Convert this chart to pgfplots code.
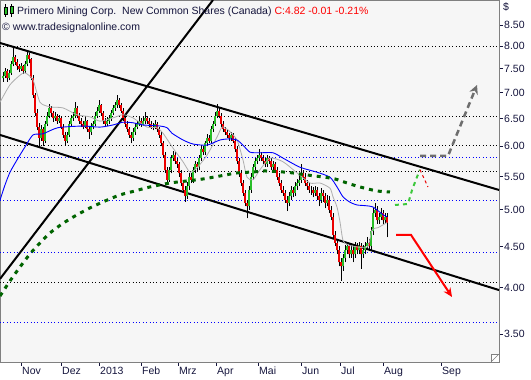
\documentclass[border=0pt]{standalone}
\usepackage{fontspec}
\setmainfont{Liberation Sans}
\usepackage{pgfplots}
\usepackage{pgfplotstable}
\pgfplotsset{compat=1.18}
\usetikzlibrary{arrows.meta}
\definecolor{bg}{RGB}{246,246,246}
\definecolor{cgreen}{RGB}{40,190,40}
\definecolor{cred}{RGB}{235,0,0}
\definecolor{madk}{RGB}{0,100,0}
\definecolor{malt}{RGB}{60,200,60}
\definecolor{magray}{RGB}{175,175,175}
\definecolor{framec}{RGB}{128,128,128}
\definecolor{txt}{RGB}{20,20,60}
\definecolor{arrgray}{RGB}{110,110,110}

\pgfplotstableread{
x o h l c
3 7.30 7.42 7.22 7.35
5 7.35 7.52 7.30 7.45
7 7.45 7.50 7.22 7.30
9 7.30 7.46 7.25 7.40
11 7.40 7.66 7.36 7.60
13 7.60 7.98 7.55 7.75
15 7.75 7.80 7.58 7.65
17 7.65 7.70 7.48 7.55
19 7.55 7.60 7.42 7.50
21 7.50 7.62 7.45 7.55
23 7.55 7.58 7.38 7.45
25 7.45 7.66 7.40 7.60
27 7.60 7.92 7.55 7.80
29 7.80 7.85 7.62 7.70
31 7.70 7.74 7.25 7.30
33 7.30 7.36 6.90 6.95
35 6.95 7.00 6.55 6.60
37 6.60 6.68 6.28 6.35
39 6.35 6.42 5.98 6.15
41 6.15 6.38 6.10 6.30
43 6.30 6.35 6.00 6.10
45 6.10 6.46 6.05 6.40
47 6.40 6.62 6.36 6.55
49 6.55 6.78 6.50 6.70
51 6.70 6.74 6.55 6.60
53 6.60 6.65 6.44 6.50
55 6.50 6.62 6.46 6.55
57 6.55 6.58 6.40 6.45
59 6.45 6.56 6.42 6.50
61 6.50 6.54 6.30 6.35
63 6.35 6.40 6.15 6.20
65 6.20 6.25 6.02 6.10
67 6.10 6.26 6.05 6.20
69 6.20 6.46 6.16 6.40
71 6.40 6.56 6.35 6.50
73 6.50 6.62 6.46 6.55
75 6.55 6.82 6.50 6.70
77 6.70 6.74 6.50 6.55
79 6.55 6.60 6.40 6.45
81 6.45 6.50 6.35 6.40
83 6.40 6.45 6.30 6.35
85 6.35 6.52 6.32 6.45
87 6.45 6.48 6.25 6.30
89 6.30 6.35 6.12 6.25
91 6.25 6.42 6.20 6.35
93 6.35 6.46 6.30 6.40
95 6.40 6.62 6.36 6.55
97 6.55 6.72 6.50 6.65
99 6.65 6.86 6.60 6.75
101 6.75 6.78 6.55 6.60
103 6.60 6.64 6.40 6.45
105 6.45 6.50 6.34 6.40
107 6.40 6.52 6.36 6.45
109 6.45 6.56 6.40 6.50
111 6.50 6.66 6.46 6.60
113 6.60 6.76 6.56 6.70
115 6.70 6.82 6.65 6.75
117 6.75 6.96 6.70 6.85
119 6.85 6.90 6.70 6.75
121 6.75 6.80 6.60 6.65
123 6.65 6.70 6.45 6.50
125 6.50 6.55 6.35 6.40
127 6.40 6.45 6.25 6.30
129 6.30 6.35 6.15 6.20
131 6.20 6.26 6.05 6.15
133 6.15 6.32 6.10 6.25
135 6.25 6.42 6.20 6.35
137 6.35 6.46 6.30 6.40
139 6.40 6.52 6.36 6.45
141 6.45 6.50 6.35 6.40
143 6.40 6.52 6.36 6.45
145 6.45 6.62 6.40 6.50
147 6.50 6.55 6.40 6.45
149 6.45 6.50 6.35 6.40
151 6.40 6.45 6.30 6.35
153 6.35 6.42 6.28 6.35
155 6.35 6.48 6.30 6.40
157 6.40 6.44 6.25 6.30
159 6.30 6.35 6.15 6.20
161 6.20 6.25 6.00 6.05
163 6.05 6.10 5.80 5.85
165 5.85 5.90 5.55 5.60
167 5.60 5.65 5.40 5.45
169 5.45 5.66 5.42 5.60
171 5.60 5.86 5.55 5.80
173 5.80 5.92 5.75 5.85
175 5.85 5.90 5.70 5.75
177 5.75 5.80 5.64 5.70
179 5.70 5.74 5.50 5.55
181 5.55 5.60 5.35 5.40
183 5.40 5.45 5.25 5.30
185 5.30 5.35 5.12 5.20
187 5.20 5.42 5.16 5.35
189 5.35 5.56 5.30 5.50
191 5.50 5.55 5.40 5.45
193 5.45 5.66 5.40 5.60
195 5.60 5.76 5.55 5.70
197 5.70 5.74 5.58 5.65
199 5.65 5.86 5.60 5.80
201 5.80 6.00 5.75 5.95
203 5.95 6.00 5.85 5.90
205 5.90 6.10 5.86 6.05
207 6.05 6.22 6.00 6.15
209 6.15 6.20 6.05 6.10
211 6.10 6.36 6.06 6.30
213 6.30 6.46 6.25 6.40
215 6.40 6.62 6.36 6.55
217 6.55 6.78 6.50 6.65
219 6.65 6.72 6.50 6.55
221 6.55 6.60 6.35 6.40
223 6.40 6.45 6.25 6.30
225 6.30 6.35 6.20 6.25
227 6.25 6.30 6.15 6.20
229 6.20 6.24 6.10 6.15
231 6.15 6.26 6.10 6.20
233 6.20 6.24 6.05 6.10
235 6.10 6.14 5.90 5.95
237 5.95 6.00 5.70 5.75
239 5.75 5.80 5.50 5.55
241 5.55 5.60 5.35 5.40
243 5.40 5.45 5.20 5.25
245 5.25 5.30 5.05 5.10
247 5.10 5.15 4.88 5.05
249 5.05 5.36 5.00 5.30
251 5.30 5.56 5.25 5.50
253 5.50 5.70 5.45 5.65
255 5.65 5.80 5.60 5.75
257 5.75 5.86 5.70 5.80
259 5.80 5.96 5.75 5.85
261 5.85 5.90 5.75 5.80
263 5.80 5.85 5.70 5.75
265 5.75 5.80 5.65 5.70
267 5.70 5.86 5.66 5.80
269 5.80 5.84 5.70 5.75
271 5.75 5.80 5.60 5.65
273 5.65 5.76 5.60 5.70
275 5.70 5.74 5.55 5.60
277 5.60 5.65 5.45 5.50
279 5.50 5.55 5.35 5.40
281 5.40 5.45 5.25 5.30
283 5.30 5.35 5.20 5.25
285 5.25 5.30 5.10 5.15
287 5.15 5.20 4.98 5.10
289 5.10 5.26 5.05 5.20
291 5.20 5.36 5.15 5.30
293 5.30 5.34 5.18 5.25
295 5.25 5.42 5.20 5.35
297 5.35 5.46 5.30 5.40
299 5.40 5.52 5.35 5.45
301 5.45 5.70 5.40 5.55
303 5.55 5.60 5.45 5.50
305 5.50 5.55 5.35 5.40
307 5.40 5.45 5.30 5.35
309 5.35 5.40 5.25 5.30
311 5.30 5.36 5.22 5.30
313 5.30 5.34 5.18 5.25
315 5.25 5.36 5.20 5.30
317 5.30 5.34 5.15 5.20
319 5.20 5.25 5.05 5.15
321 5.15 5.32 5.10 5.25
323 5.25 5.30 5.12 5.20
325 5.20 5.24 5.02 5.10
327 5.10 5.22 5.05 5.15
329 5.15 5.20 4.95 5.00
331 5.00 5.05 4.85 4.90
333 4.90 4.95 4.60 4.65
335 4.65 4.70 4.50 4.55
337 4.55 4.60 4.40 4.45
339 4.45 4.50 4.25 4.30
341 4.30 4.35 4.08 4.25
343 4.25 4.40 4.20 4.35
345 4.35 4.52 4.30 4.45
347 4.45 4.56 4.40 4.50
349 4.50 4.55 4.35 4.40
351 4.40 4.52 4.36 4.45
353 4.45 4.50 4.30 4.40
355 4.40 4.56 4.36 4.50
357 4.50 4.55 4.40 4.45
359 4.45 4.56 4.40 4.50
361 4.50 4.54 4.22 4.40
363 4.40 4.52 4.36 4.45
365 4.45 4.56 4.40 4.50
367 4.50 4.62 4.46 4.55
369 4.55 4.60 4.44 4.50
371 4.50 4.76 4.46 4.70
373 4.70 5.02 4.65 4.95
375 4.95 5.10 4.90 5.00
377 5.00 5.05 4.80 4.85
379 4.85 4.96 4.80 4.90
381 4.90 5.02 4.86 4.95
383 4.95 5.00 4.80 4.85
385 4.85 4.96 4.80 4.90
387 4.90 4.95 4.62 4.82
}\candles

\begin{document}
\begin{tikzpicture}
\useasboundingbox (0,-18pt) rectangle (531pt,362pt);
\begin{axis}[
  at={(0,0)}, anchor=south west, scale only axis,
  width=499pt, height=362pt,
  xmin=0, xmax=499, ymode=log, ymin=3.23, ymax=9.133,
  axis background/.style={fill=bg},
  axis line style={draw=framec, line width=0.8pt},
  xtick={21,61,99,141,178,216,258,301,340,383,441},
  xticklabels={Nov,Dez,2013,Feb,Mrz,Apr,Mai,Jun,Jul,Aug,Sep},
  ytick={3.5,4,4.5,5,5.5,6,6.5,7,7.5,8,8.5},
  yticklabels={3.50,4.00,4.50,5.00,5.50,6.00,6.50,7.00,7.50,8.00,8.50},
  yminorticks=false, xminorticks=false,
  xtick pos=left, ytick pos=right, tick align=outside,
  major tick length=4pt,
  tick style={draw=txt, line width=0.6pt},
  yticklabel style={anchor=west, inner sep=1pt, font=\fontsize{10.5}{12}\selectfont, text=txt},
  xticklabel style={anchor=north west, inner sep=1pt, font=\fontsize{10.5}{12}\selectfont, text=txt},
]
% dotted support/resistance lines
\addplot[black, line width=0.8pt, dash pattern=on 0.8pt off 2.6pt] coordinates {(0,8.00) (499,8.00)};
\addplot[black, line width=0.8pt, dash pattern=on 0.8pt off 2.6pt] coordinates {(0,6.53) (499,6.53)};
\addplot[black, line width=0.8pt, dash pattern=on 0.8pt off 2.6pt] coordinates {(0,6.02) (499,6.02)};
\addplot[black, line width=0.8pt, dash pattern=on 0.8pt off 2.6pt] coordinates {(0,5.59) (499,5.59)};
\addplot[black, line width=0.8pt, dash pattern=on 0.8pt off 2.6pt] coordinates {(0,4.06) (499,4.06)};
\addplot[blue, line width=0.8pt, dash pattern=on 0.8pt off 2.6pt] coordinates {(0,5.82) (499,5.82)};
\addplot[blue, line width=0.8pt, dash pattern=on 0.8pt off 2.6pt] coordinates {(0,5.13) (499,5.13)};
\addplot[blue, line width=0.8pt, dash pattern=on 0.8pt off 2.6pt] coordinates {(0,4.43) (499,4.43)};
\addplot[blue, line width=0.8pt, dash pattern=on 0.8pt off 2.6pt] coordinates {(0,3.62) (499,3.62)};
% trend channel
\addplot[black, line width=2pt] coordinates {(0,8.073) (499,5.293)};
\addplot[black, line width=2pt] coordinates {(0,6.199) (499,3.971)};
\addplot[black, line width=2pt] coordinates {(0,4.10) (213,9.133)};
% candles: wicks
\addplot[draw=none, mark=none, error bars/.cd, y dir=plus, y explicit, error mark=none,
  error bar style={draw=black, line width=0.7pt}]
  table[x=x, y=l, y error plus expr=\thisrow{h}-\thisrow{l}] {\candles};
% candles: body outline
\addplot[draw=none, mark=none, error bars/.cd, y dir=plus, y explicit, error mark=none,
  error bar style={draw=black, line width=2.0pt}]
  table[x=x, y expr={min(\thisrow{o},\thisrow{c})}, y error plus expr={abs(\thisrow{c}-\thisrow{o})}] {\candles};
% up bodies
\addplot[draw=none, mark=none, restrict expr to domain={\thisrow{c}-\thisrow{o}}{0.001:100},
  error bars/.cd, y dir=plus, y explicit, error mark=none,
  error bar style={draw=cgreen, line width=1.25pt}]
  table[x=x, y=o, y error plus expr={\thisrow{c}-\thisrow{o}}] {\candles};
% down bodies
\addplot[draw=none, mark=none, restrict expr to domain={\thisrow{o}-\thisrow{c}}{0.001:100},
  error bars/.cd, y dir=plus, y explicit, error mark=none,
  error bar style={draw=cred, line width=1.25pt}]
  table[x=x, y=c, y error plus expr={\thisrow{o}-\thisrow{c}}] {\candles};
% gray moving average
\addplot[magray, line width=0.8pt, smooth, tension=0.4] coordinates {
(0,6.81) (10,7.16) (20,7.36) (25,7.41) (33,7.26) (40,6.81) (50,6.72) (63,6.70) (77,6.57) (90,6.53) (100,6.45) (113,6.51) (123,6.57) (133,6.51) (147,6.34) (157,6.33) (163,6.23) (173,5.97) (183,5.74) (190,5.57) (197,5.64) (207,5.85) (217,6.16) (222,6.34) (228,6.29) (237,6.11) (243,5.77) (247,5.49) (253,5.45) (260,5.61) (270,5.80) (283,5.74) (297,5.56) (310,5.40) (320,5.40) (330,5.32) (333,5.19) (337,5.04) (340,4.83) (343,4.58) (348,4.52) (367,4.49) (372,4.72) (378,4.75) (387,4.82)};
% blue moving average
\addplot[blue, line width=0.9pt, smooth, tension=0.4] coordinates {
(0,5.14) (5,5.37) (10,5.57) (17,5.77) (25,5.99) (33,6.20) (43,6.22) (58,6.33) (83,6.36) (100,6.34) (113,6.38) (123,6.43) (133,6.42) (143,6.38) (160,6.36) (167,6.33) (172,6.23) (183,6.11) (193,6.04) (207,6.02) (220,6.11) (230,6.13) (237,6.11) (243,6.02) (250,5.90) (260,5.89) (273,5.89) (283,5.80) (300,5.65) (317,5.57) (330,5.49) (337,5.34) (343,5.19) (350,5.11) (357,5.07) (365,5.06) (373,5.04) (383,4.93) (387,4.90)};
% long moving average (dark green dashed)
\addplot[madk, line width=3pt, dash pattern=on 4pt off 5pt, smooth] coordinates {
(0,3.904) (10,4.076) (20,4.243) (30,4.405) (40,4.546) (50,4.678) (62,4.800) (75,4.912) (90,5.027) (105,5.128) (120,5.218) (135,5.278) (150,5.339) (170,5.400) (187,5.432) (203,5.463) (220,5.510) (237,5.558) (253,5.574) (265,5.590) (283,5.574) (293,5.558) (307,5.526) (323,5.494) (335,5.463) (347,5.400) (360,5.339) (377,5.278) (390,5.263)};
% projections
\addplot[malt, line width=2pt, dash pattern=on 4pt off 4pt] coordinates {(395,5.070) (408,5.084) (412,5.29) (417,5.494) (420,5.61)};
\addplot[cred, line width=1pt, dash pattern=on 3pt off 3pt] coordinates {(420,5.61) (428,5.339)};
\addplot[arrgray, line width=2.5pt, dash pattern=on 6pt off 4pt, -{Stealth[length=9pt,width=9pt]}] coordinates {(420,5.836) (448,5.836) (477,7.155)};
\addplot[red, line width=2pt, -{Stealth[length=9pt,width=8pt]}] coordinates {(396,4.652) (411,4.652) (452,3.893)};
\end{axis}
% header
\node[anchor=base west, inner sep=0pt, font=\fontsize{10.5}{12}\selectfont, text=txt] at (17pt,347pt)
  {Primero Mining Corp.\ \ New Common Shares (Canada) \textcolor{red}{C:4.82 -0.01 -0.21\%}};
\node[anchor=base west, inner sep=0pt, font=\fontsize{10.5}{12}\selectfont, text=txt] at (2pt,331pt)
  {\textcopyright\ www.tradesignalonline.com};
\node[anchor=base west, inner sep=0pt, font=\fontsize{10.5}{12}\selectfont, text=txt] at (503pt,351pt) {\$};
% icon
\draw[black, line width=0.6pt] (5.5pt,345pt) -- (5.5pt,358pt);
\filldraw[fill=cgreen, draw=black, line width=0.5pt] (4pt,348pt) rectangle (7pt,355pt);
\draw[black, line width=0.6pt] (11.5pt,345pt) -- (11.5pt,358pt);
\filldraw[fill=cgreen, draw=black, line width=0.5pt] (10pt,349pt) rectangle (13pt,356pt);
% resize grip
\filldraw[fill=white, draw=framec, line width=0.6pt] (491pt,0pt) rectangle (499pt,8pt);
\draw[framec, line width=0.6pt] (492pt,1pt) -- (498pt,7pt);
\end{tikzpicture}
\end{document}
